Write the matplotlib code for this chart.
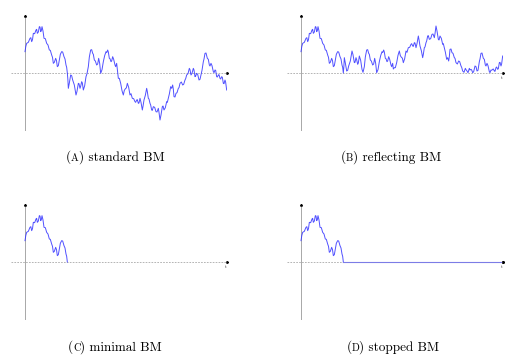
import matplotlib
matplotlib.use("Agg")
import matplotlib.pyplot as plt
import numpy as np

# traced path of the Brownian motion (time units, value units)
times = [0, 2.5, 5, 10, 15, 17.5, 20, 22.5, 25, 29, 33, 35, 37, 40, 43, 45, 47,
         49, 51, 54, 57, 61, 65, 69, 73, 76, 80, 82.5, 85, 88, 92, 94.5, 97,
         100, 103, 106, 110, 113, 117, 120, 123, 125, 127, 128.5, 130, 133, 137,
         140, 143, 148, 153, 156, 160, 162, 165, 167, 170, 172, 175, 179, 183,
         186, 190, 193, 197, 200, 203, 205, 208, 211, 215, 218, 221, 224, 227,
         231, 235, 239, 243, 245, 248, 250, 253, 255, 258, 260, 263, 266, 270,
         272, 275, 277, 280, 283, 287, 291, 295, 298, 302, 304, 307, 311, 315,
         318, 322, 326, 330, 332, 335, 337, 340, 342, 345, 348, 352, 354, 357,
         361, 365, 367, 370, 372, 375, 377, 380, 382, 385, 389, 393, 396, 400,
         402, 405, 408, 412, 414, 417, 421, 425, 427, 430, 433, 437, 440, 443,
         445, 447, 450, 453, 456, 460, 462, 465, 469, 473, 476, 480, 482, 485,
         489, 493, 495, 498, 501, 505, 507, 510, 512, 515, 518, 522, 525, 528,
         531, 535, 537, 540, 543, 547, 550, 553, 555, 558, 561, 565, 567, 570,
         572, 575, 577, 580, 582, 585, 587, 590, 592, 595, 597, 600, 602, 605]
values = [64, 80, 89, 92, 104, 106, 94, 100, 119, 118, 129, 131, 119, 123, 139,
          138, 124, 127, 139, 126, 104, 103, 89, 84, 69, 68, 54, 47, 29, 32, 44,
          37, 19, 22, 39, 56, 64, 63, 49, 42, 24, 17, 0, -18, -46, -30, -6, -8,
          -21, -36, -66, -55, -31, -32, -46, -40, -26, -30, -51, -38, -11, -2,
          19, 48, 69, 70, 59, 56, 39, 36, 24, 27, 44, 29, -1, 10, 34, 52, 64,
          61, 69, 63, 44, 43, 34, 36, 49, 41, 24, 19, 29, 12, -16, -16, -31,
          -53, -66, -52, -46, -45, -31, -43, -66, -62, -76, -77, -86, -88, -81,
          -80, -91, -90, -76, -88, -111, -100, -81, -67, -46, -56, -76, -78,
          -91, -96, -111, -112, -101, -103, -116, -117, -106, -118, -141, -126,
          -101, -99, -111, -104, -86, -88, -76, -63, -41, -46, -36, -49, -71,
          -72, -61, -59, -46, -44, -31, -27, -36, -34, -21, -17, -6, -2, 14, 10,
          -6, -1, 14, 9, -11, -9, -1, -4, -21, -19, -6, 8, 34, 42, 59, 60, 44,
          41, 24, 21, 29, 22, 4, 1, 9, 8, -11, -12, -6, -5, -16, -18, -11, -13,
          -31, -32, -21, -28, -51]

captions = [("A", "standard BM"), ("B", "reflecting BM"),
            ("C", "minimal BM"), ("D", "stopped BM")]

T_END = 605
V_MAX = 171

times = np.array(times, dtype=float)
values = np.array(values, dtype=float)
stop = int(np.argmax(values <= 0))  # first hitting time of zero

W, H = 529, 362
fig = plt.figure(figsize=(W / 100, H / 100), dpi=100)

path_color = "#3232ff"
grey = "#a8a8a8"


def make_axes(left_px, top_px):
    width_px = (T_END + 42) / 3
    height_px = 2 * V_MAX / 3
    ax = fig.add_axes([left_px / W, (H - top_px - height_px) / H,
                       width_px / W, height_px / H])
    ax.set_xlim(-42, T_END)
    ax.set_ylim(-V_MAX, V_MAX)
    ax.axis("off")
    # vertical axis
    ax.plot([0, 0], [-V_MAX, V_MAX], color=grey, lw=0.7, clip_on=False)
    ax.plot([0], [V_MAX], marker=(3, 0, 0), ms=1.6, color="k", clip_on=False)
    return ax


def time_axis(ax, x0, x1, label=True):
    ax.plot([x0, x1], [0, 0], color=grey, lw=0.6, ls=(0, (2, 1.5)), clip_on=False)
    ax.plot([T_END], [0], marker=(3, 0, -90), ms=1.6, color="k", clip_on=False)
    if label:
        ax.text(T_END - 4, -10, "t", fontsize=3, family="DejaVu Serif",
                ha="center", va="top", color="#444444")


def caption(xc, yc, letter, rest, size=9.5):
    r = fig.canvas.get_renderer()
    parts = [("(", size), (letter, size * 0.78), (") " + rest, size)]
    txts = []
    for s, fs in parts:
        t = fig.text(0, 1 - yc / H, s, fontsize=fs, family="cmr10",
                     ha="left", va="baseline")
        txts.append(t)
    widths = [t.get_window_extent(renderer=r).width for t in txts]
    x = xc - sum(widths) / 2
    for t, w in zip(txts, widths):
        t.set_x(x / W)
        x += w


path_style = dict(color=path_color, lw=0.7, alpha=0.85)

# (A) standard BM
ax = make_axes(11, 16)
time_axis(ax, -42, T_END, label=False)
ax.plot(times, values, **path_style)

# (B) reflecting BM
ax = make_axes(287, 16)
time_axis(ax, -42, T_END)
ax.plot(times, np.abs(values), **path_style)

# (C) minimal BM
ax = make_axes(11, 205)
time_axis(ax, -42, T_END)
ax.plot(times[:stop + 1], values[:stop + 1], **path_style)

# (D) stopped BM
ax = make_axes(287, 205)
time_axis(ax, -42, times[stop], label=False)
ax.plot(times[:stop + 1], values[:stop + 1], **path_style)
ax.plot([times[stop], T_END], [0, 0], color="#7c7ce6", lw=0.8)
time_axis(ax, T_END - 1, T_END)

caption(115, 161, *captions[0])
caption(391, 161, *captions[1])
caption(115, 351, *captions[2])
caption(393, 351, *captions[3])

fig.savefig("out.png", dpi=100)
